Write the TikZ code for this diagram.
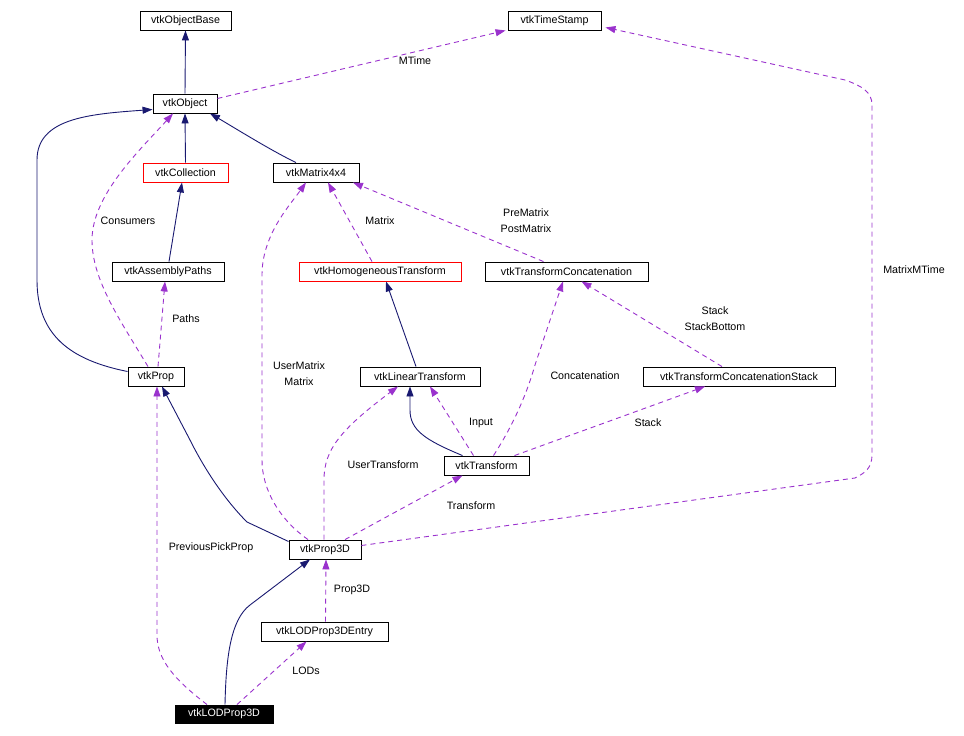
\documentclass[tikz,border=0pt]{standalone}
\usepackage{fontspec}
\setmainfont{Liberation Sans}
\usetikzlibrary{arrows.meta,calc}
\definecolor{navyc}{HTML}{191970}
\definecolor{purp}{HTML}{9A32CD}
\begin{document}
\begin{tikzpicture}[x=1pt,y=-1pt,
  font=\fontsize{10.7}{12}\selectfont,
  box/.style={draw=black,line width=0.9pt,minimum height=19pt,inner sep=0pt,fill=white},
  redbox/.style={box,draw=red},
  inh/.style={draw=navyc,line width=0.9pt,-{Triangle[length=10pt,width=7pt]}},
  use/.style={draw=purp,line width=0.9pt,dash pattern=on 5pt off 4pt,-{Triangle[length=10pt,width=7pt]}},
  lbl/.style={inner sep=0pt,text=black}]
\useasboundingbox (0,0) rectangle (964,736);
% nodes
\node[box,minimum width=91pt] (ob) at (185.5,20.5) {vtkObjectBase};
\node[box,minimum width=93pt] (ts) at (554.5,20.5) {vtkTimeStamp};
\node[box,minimum width=64pt] (obj) at (185,103.5) {vtkObject};
\node[redbox,minimum width=85pt] (col) at (185.5,172.5) {vtkCollection};
\node[box,minimum width=86pt] (mat) at (316,172.5) {vtkMatrix4x4};
\node[box,minimum width=112pt] (ap) at (168,271.5) {vtkAssemblyPaths};
\node[redbox,minimum width=162pt] (hom) at (380,271.5) {vtkHomogeneousTransform};
\node[box,minimum width=163pt] (tc) at (566.5,271.5) {vtkTransformConcatenation};
\node[box,minimum width=56pt] (prop) at (156,376.5) {vtkProp};
\node[box,minimum width=120pt] (lt) at (420,376.5) {vtkLinearTransform};
\node[box,minimum width=192pt] (tcs) at (739,376.5) {vtkTransformConcatenationStack};
\node[box,minimum width=85pt] (tr) at (486.5,465.5) {vtkTransform};
\node[box,minimum width=72pt] (p3d) at (325,549.5) {vtkProp3D};
\node[box,minimum width=127pt] (lode) at (324.5,631.5) {vtkLODProp3DEntry};
\node[box,fill=black,text=white,minimum width=98pt,minimum height=18pt] (lod) at (224,714) {vtkLODProp3D};
% labels
\node[lbl] (lMTime) at (415,61) {MTime};
\node[lbl] (lCons) at (128,221) {Consumers};
\node[lbl] (lPaths) at (186,319) {Paths};
\node[lbl] (lMatrix) at (380,221) {Matrix};
\node[lbl] (lPre) at (526,213) {PreMatrix};
\node[lbl] (lPost) at (526,229) {PostMatrix};
\node[lbl] (lUM) at (299,366) {UserMatrix};
\node[lbl] (lUM2) at (299,382) {Matrix};
\node[lbl] (lConc) at (585,376) {Concatenation};
\node[lbl] (lStack) at (715,311) {Stack};
\node[lbl] (lStackB) at (715,327) {StackBottom};
\node[lbl] (lMMT) at (914,270) {MatrixMTime};
\node[lbl] (lInput) at (481,423) {Input};
\node[lbl] (lStack2) at (648,423) {Stack};
\node[lbl] (lUT) at (383,465) {UserTransform};
\node[lbl] (lTr) at (471,506) {Transform};
\node[lbl] (lPPP) at (211,548) {PreviousPickProp};
\node[lbl] (lP3D) at (352,590) {Prop3D};
\node[lbl] (lLODs) at (306,671) {LODs};
% edges
\draw[inh] (obj.north) -- (ob.south);
\draw[use] ($(obj.east)+(0,-5)$) -- ($(ts.south west)+(-2,0)$);
\draw[inh] (col.north) -- (obj.south);
\draw[inh] ($(mat.north)+(-20,0)$) .. controls (270,150) and (235,128) .. ($(obj.south)+(25,0)$);
\draw[inh] ($(prop.west)+(0,-5)$) .. controls (70,360) and (37,335) .. (37,280) -- (37,160) .. controls (37,118) and (90,114) .. ($(obj.west)+(0,6)$);
\draw[use] ($(prop.north)+(-8,0)$) .. controls (120,320) and (92,280) .. (92,240) .. controls (92,195) and (140,150) .. ($(obj.south)+(-12,0)$);
\draw[inh] ($(ap.north)+(1,0)$) -- ($(col.south)+(-3.5,0)$);
\draw[use] ($(prop.north)+(2,0)$) -- ($(ap.south)+(-3,0)$);
\draw[use] ($(p3d.north)+(-17,0)$) .. controls (280,520) and (262,490) .. (262,460) -- (262,275) .. controls (262,235) and (290,205) .. ($(mat.south)+(-10,0)$);
\draw[use] ($(hom.north)+(-8,0)$) -- ($(mat.south)+(12,0)$);
\draw[use] ($(tc.north)+(-23,0)$) -- ($(mat.south)+(37,0)$);
\draw[inh] ($(lt.north)+(-4,0)$) -- ($(hom.south)+(6,0)$);
\draw[inh] ($(tr.north)+(-24,0)$) .. controls (425,440) and (410,430) .. (410,410) -- ($(lt.south)+(-10,0)$);
\draw[use] ($(tr.north)+(-13,0)$) -- ($(lt.south)+(10,0)$);
\draw[use] ($(tr.north)+(7,0)$) .. controls (510,430) and (525,400) .. (535,365) -- ($(tc.south)+(-3.5,0)$);
\draw[use] ($(tr.north)+(28,0)$) -- ($(tcs.south)+(-34,0)$);
\draw[use] ($(tcs.north)+(-17,0)$) -- ($(tc.south)+(15,0)$);
\draw[inh] ($(p3d.west)+(0,-8)$) -- (247,522) .. controls (225,500) and (205,470) .. (190,440) -- ($(prop.south)+(6,0)$);
\draw[use] ($(p3d.north)+(-1,0)$) -- (324,480) .. controls (324,450) and (340,430) .. ($(lt.south)+(-22,0)$);
\draw[use] ($(p3d.north)+(20,0)$) -- ($(tr.south)+(-24,0)$);
\draw[use] ($(p3d.east)+(0,-4)$) -- (855,478) .. controls (865,473) and (872,468) .. (872,455) -- (872,105) .. controls (872,92) and (862,86) .. (845,80) -- ($(ts.south east)+(4,-3)$);
\draw[use] ($(lod.north)+(-17,0)$) .. controls (175,680) and (157,660) .. (157,635) -- ($(prop.south)+(1,0)$);
\draw[inh] ($(lod.north)+(1,0)$) .. controls (226,660) and (230,620) .. (250,605) -- ($(p3d.south)+(-15,0)$);
\draw[use] ($(lode.north)+(1,0)$) -- ($(p3d.south)+(1,0)$);
\draw[use] ($(lod.north)+(13,0)$) -- ($(lode.south)+(-18,0)$);
\end{tikzpicture}
\end{document}
